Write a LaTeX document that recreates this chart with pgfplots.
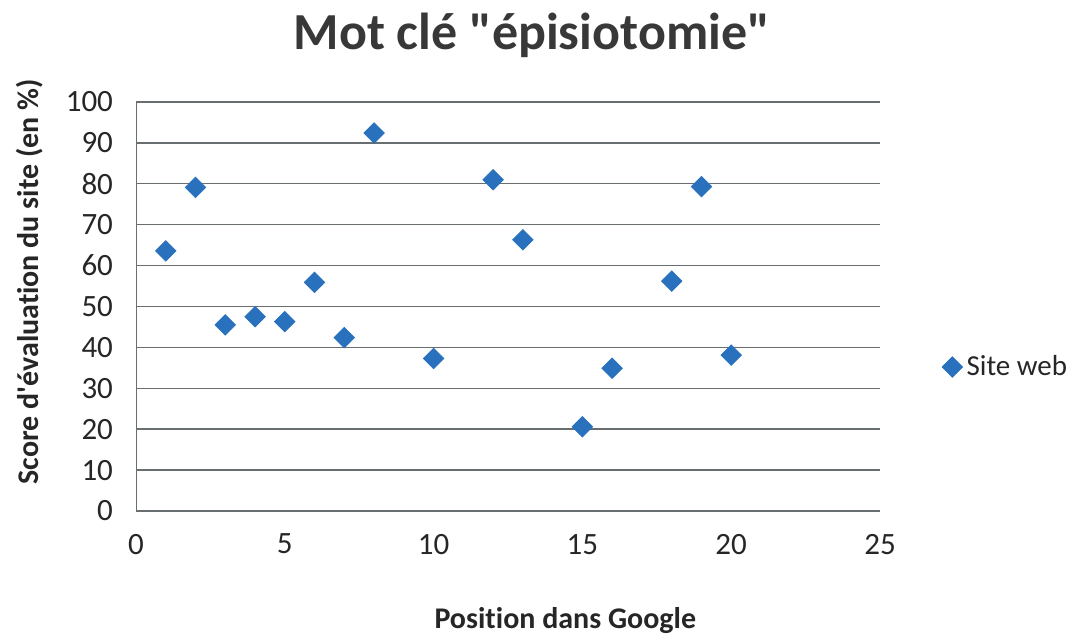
\documentclass[border=0pt]{standalone}
\usepackage{fontspec}
\setmainfont{Carlito}[Ligatures={TeXOff,NoCommon}]
\usepackage{pgfplots}
\pgfplotsset{compat=1.18}
\definecolor{mblue}{RGB}{41,113,189}
\definecolor{gridc}{RGB}{105,110,113}
\begin{document}
\begin{tikzpicture}
\begin{axis}[
  scale only axis,
  width=372pt, height=204.5pt,
  xmin=0, xmax=25, ymin=0, ymax=100,
  xtick={0,5,10,15,20,25},
  ytick={0,10,...,100},
  /pgf/number format/assume math mode=true,
  tick label style={font=\fontsize{15.5}{17}\selectfont, text=black!85},
  xticklabel style={yshift=-8pt},
  yticklabel style={xshift=-8pt},
  axis x line*=bottom,
  axis y line*=left,
  axis line style={gridc, -},
  ymajorgrids,
  grid style={gridc, line width=0.7pt},
  major tick length=0pt,
  x axis line style={draw=none},
  legend style={at={(1.075,0.352)}, anchor=west, draw=none, fill=none,
    font=\fontsize{14.5}{16}\selectfont, text=black!85},
  legend cell align=left,
  clip=false,
]
\addplot[only marks, mark=square*, mark size=3.6pt, color=mblue, mark options={fill=mblue, draw=mblue, rotate=45}]
coordinates {
(1,63.6) (2,79.1) (3,45.5) (4,47.5) (5,46.3) (6,55.9) (7,42.4) (8,92.4)
(10,37.3) (12,81.0) (13,66.3) (15,20.6) (16,34.9) (18,56.2) (19,79.3) (20,38.1)
};
\addlegendentry{Site web}
\node[font=\bfseries\fontsize{26}{30}\selectfont, text=black!78] at (axis description cs:0.532,1.164) {Mot clé "épisiotomie"};
\node[font=\bfseries\fontsize{15}{17}\selectfont, text=black!85] at (axis description cs:0.577,-0.267) {Position dans Google};
\node[font=\bfseries\fontsize{15}{17}\selectfont, text=black!85, rotate=90] at (axis description cs:-0.1425,0.56) {Score d'évaluation du site (en \%)};
\end{axis}
\useasboundingbox (-68pt,-63pt) rectangle (471.5pt,255.5pt);
\end{tikzpicture}
\end{document}
